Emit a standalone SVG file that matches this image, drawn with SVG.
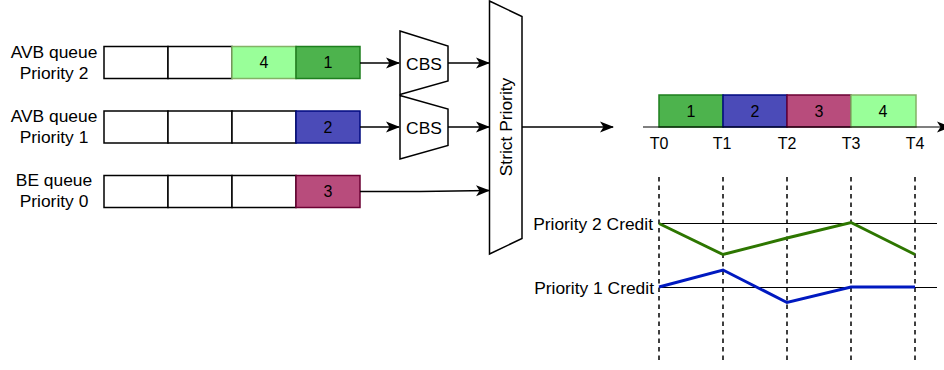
<svg xmlns="http://www.w3.org/2000/svg" width="944" height="370" viewBox="0 0 944 370">
  <style>
    text { font-family: "Liberation Sans", Arial, sans-serif; fill: #000; }
    .lbl { font-size: 17.4px; text-anchor: middle; }
    .num { font-size: 16px; text-anchor: middle; }
    .tl { font-size: 16px; text-anchor: middle; }
    .cell { fill: #fff; stroke: #000; stroke-width: 1.5; }
    .g1 { fill: #4db34d; stroke: #1e7f1e; stroke-width: 1.5; }
    .g4 { fill: #99ff99; stroke: #82b366; stroke-width: 1.5; }
    .b2 { fill: #4b4bb8; stroke: #000a80; stroke-width: 1.5; }
    .m3 { fill: #b84c7c; stroke: #6b0033; stroke-width: 1.5; }
    .shape { fill: #fff; stroke: #000; stroke-width: 1.5; stroke-linejoin: miter; }
    .wire { fill: none; stroke: #000; stroke-width: 1.5; }
    .grid { fill: none; stroke: #000; stroke-width: 1.5; stroke-dasharray: 4.5 4; }
    .axis { fill: none; stroke: #000; stroke-width: 1.2; }
  </style>
  <defs>
    <marker id="arrow" viewBox="0 0 14 12" refX="13" refY="6" markerWidth="14" markerHeight="12" markerUnits="userSpaceOnUse" orient="auto">
      <path d="M0,0.5 L14,6 L0,11.5 L3.5,6 Z" fill="#000"/>
    </marker>
  </defs>

  <!-- queue Priority 2 -->
  <g id="queue-p2">
    <text class="lbl" x="54" y="58">AVB queue</text>
    <text class="lbl" x="54" y="79">Priority 2</text>
    <rect class="cell" x="104" y="46.5" width="64" height="32"/>
    <rect class="cell" x="168" y="46.5" width="64" height="32"/>
    <rect class="g4" x="232" y="46.5" width="64" height="32"/>
    <rect class="g1" x="296" y="46.5" width="64" height="32"/>
    <text class="num" x="264" y="68">4</text>
    <text class="num" x="328" y="68">1</text>
  </g>

  <!-- queue Priority 1 -->
  <g id="queue-p1">
    <text class="lbl" x="54" y="122">AVB queue</text>
    <text class="lbl" x="54" y="143">Priority 1</text>
    <rect class="cell" x="104" y="111" width="64" height="32"/>
    <rect class="cell" x="168" y="111" width="64" height="32"/>
    <rect class="cell" x="232" y="111" width="64" height="32"/>
    <rect class="b2" x="296" y="111" width="64" height="32"/>
    <text class="num" x="328" y="132.5">2</text>
  </g>

  <!-- queue Priority 0 -->
  <g id="queue-p0">
    <text class="lbl" x="54" y="186">BE queue</text>
    <text class="lbl" x="54" y="207">Priority 0</text>
    <rect class="cell" x="104" y="175.5" width="64" height="32"/>
    <rect class="cell" x="168" y="175.5" width="64" height="32"/>
    <rect class="cell" x="232" y="175.5" width="64" height="32"/>
    <rect class="m3" x="296" y="175.5" width="64" height="32"/>
    <text class="num" x="328" y="197">3</text>
  </g>

  <!-- credit based shapers -->
  <g id="cbs-p2">
    <path class="shape" d="M400,31 L448,46 L448,81 L400,94.5 Z"/>
    <text class="lbl" x="424" y="69.5">CBS</text>
  </g>
  <g id="cbs-p1">
    <path class="shape" d="M400,95.5 L448,109 L448,145.5 L400,159 Z"/>
    <text class="lbl" x="424" y="133.5">CBS</text>
  </g>

  <!-- strict priority selector -->
  <g id="strict-priority">
    <path class="shape" d="M489.5,1 L522,16.5 L522,238.5 L489.5,254 Z"/>
    <text class="lbl" transform="translate(512,127) rotate(-90)" x="0" y="0">Strict Priority</text>
  </g>

  <!-- transmission timeline -->
  <g id="timeline">
    <rect class="g1" x="659" y="95" width="64" height="32"/>
    <rect class="b2" x="723" y="95" width="64" height="32"/>
    <rect class="m3" x="787" y="95" width="64" height="32"/>
    <rect class="g4" x="851" y="95" width="65" height="32"/>
    <text class="num" x="691" y="117">1</text>
    <text class="num" x="755" y="117">2</text>
    <text class="num" x="819" y="117">3</text>
    <text class="num" x="883" y="117">4</text>
    <text class="tl" x="659" y="148.5">T0</text>
    <text class="tl" x="722" y="148.5">T1</text>
    <text class="tl" x="787" y="148.5">T2</text>
    <text class="tl" x="851" y="148.5">T3</text>
    <text class="tl" x="915" y="148.5">T4</text>
  </g>

  <!-- credit graph -->
  <g id="credit-graph">
    <path class="grid" d="M659,177 V363 M723,177 V363 M787,177 V363 M851,177 V363 M915,177 V363"/>
    <path class="axis" d="M659,223.5 H937 M659,287.5 H937"/>
    <text class="lbl" x="653" y="229.5" style="text-anchor:end">Priority 2 Credit</text>
    <text class="lbl" x="654" y="293.5" style="text-anchor:end">Priority 1 Credit</text>
    <polyline points="659,223.5 723,254.5 787,238 851,222.5 915,254.5" fill="none" stroke="#2d7600" stroke-width="3"/>
    <polyline points="659,287 723,270 787,302.5 851,287 915,287" fill="none" stroke="#0019c0" stroke-width="3"/>
  </g>

  <!-- connectors -->
  <g id="connectors">
    <path class="wire" d="M360,63 H399" marker-end="url(#arrow)"/>
    <path class="wire" d="M448,63 H489" marker-end="url(#arrow)"/>
    <path class="wire" d="M360,127 H399" marker-end="url(#arrow)"/>
    <path class="wire" d="M448,127 H489" marker-end="url(#arrow)"/>
    <path class="wire" d="M360,191.5 L420,191.5 L489,190.5" marker-end="url(#arrow)"/>
    <path class="wire" d="M522,127 H613" marker-end="url(#arrow)"/>
    <path class="axis" d="M643,127 H950" marker-end="url(#arrow)"/>
  </g>
</svg>
